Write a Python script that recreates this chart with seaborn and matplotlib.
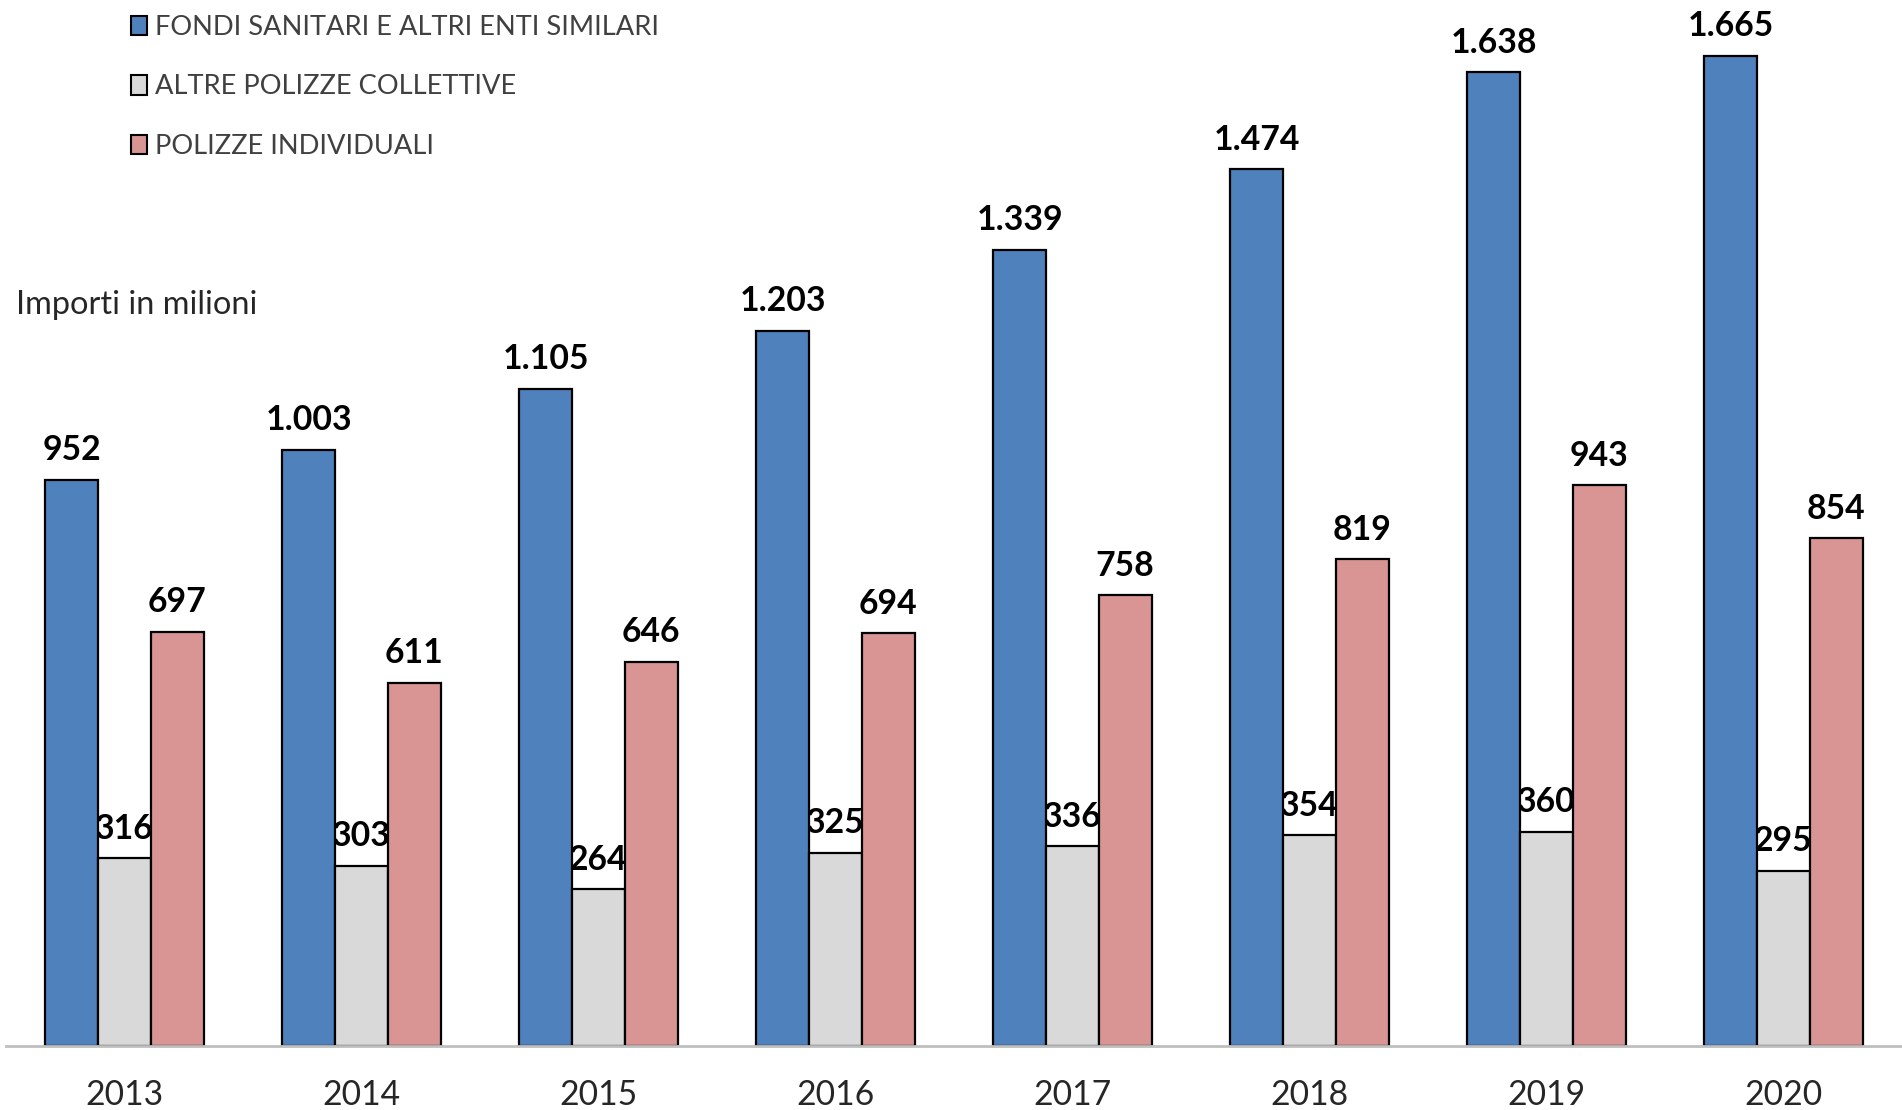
import pandas as pd
import seaborn as sns
import matplotlib.pyplot as plt
from matplotlib.patches import Patch

# --- Data (importi in milioni) ---
anni = ["2013", "2014", "2015", "2016", "2017", "2018", "2019", "2020"]
serie = ["FONDI SANITARI E ALTRI ENTI SIMILARI", "ALTRE POLIZZE COLLETTIVE", "POLIZZE INDIVIDUALI"]
fondi = [952, 1003, 1105, 1203, 1339, 1474, 1638, 1665]
collettive = [316, 303, 264, 325, 336, 354, 360, 295]
individuali = [697, 611, 646, 694, 758, 819, 943, 854]
colori = ["#4F81BD", "#D9D9D9", "#D99594"]

rows = []
for nome, valori in zip(serie, [fondi, collettive, individuali]):
    for a, v in zip(anni, valori):
        rows.append({"anno": a, "serie": nome, "valore": v})
df = pd.DataFrame(rows)

sns.set_style("white")
plt.rcParams["font.family"] = ["Lato", "DejaVu Sans"]

W, H = 1902, 1110
fig = plt.figure(figsize=(W / 100, H / 100), dpi=100)
ax = fig.add_axes([6 / W, (H - 1046) / H, (W - 6) / W, 1046 / H])

sns.barplot(data=df, x="anno", y="valore", hue="serie", hue_order=serie,
            palette=dict(zip(serie, colori)), saturation=1, width=0.667,
            edgecolor="black", linewidth=1.6, legend=False, ax=ax)

ax.set_xlim(-0.5, len(anni) - 0.5)
ax.set_ylim(0, 1759)

# value labels, Italian thousands separator
def fmt(v):
    return f"{v:,}".replace(",", ".")

for cont, nome in zip(ax.containers, serie):
    for bar in cont:
        v = bar.get_height()
        z = 0.5 if nome == serie[1] else 3
        ax.annotate(fmt(int(v)), (bar.get_x() + bar.get_width() / 2, v),
                    xytext=(0, 14), textcoords="offset points",
                    ha="center", va="baseline", fontsize=24.3, fontweight="bold",
                    color="black", zorder=z)

for s in ["left", "right", "top"]:
    ax.spines[s].set_visible(False)
ax.spines["bottom"].set_color("#BFBFBF")
ax.spines["bottom"].set_linewidth(2)
ax.set_yticks([])
ax.set_xlabel("")
ax.set_ylabel("")
ax.tick_params(axis="x", length=0, pad=24, labelsize=24.2)

handles = [Patch(facecolor=c, edgecolor="black", linewidth=1.5) for c in colori]
fig.legend(handles, serie, loc="upper left", bbox_to_anchor=(120 / W, 1 - 4 / H),
           frameon=False, fontsize=19.6, handlelength=0.6, handleheight=0.72,
           handletextpad=0.3, labelspacing=1.27, borderaxespad=0,
           labelcolor="#404040")

fig.text(16 / W, 1 - 305 / H, "Importi in milioni", fontsize=23.4, va="center", ha="left")

plt.savefig("out.png", dpi=100)
